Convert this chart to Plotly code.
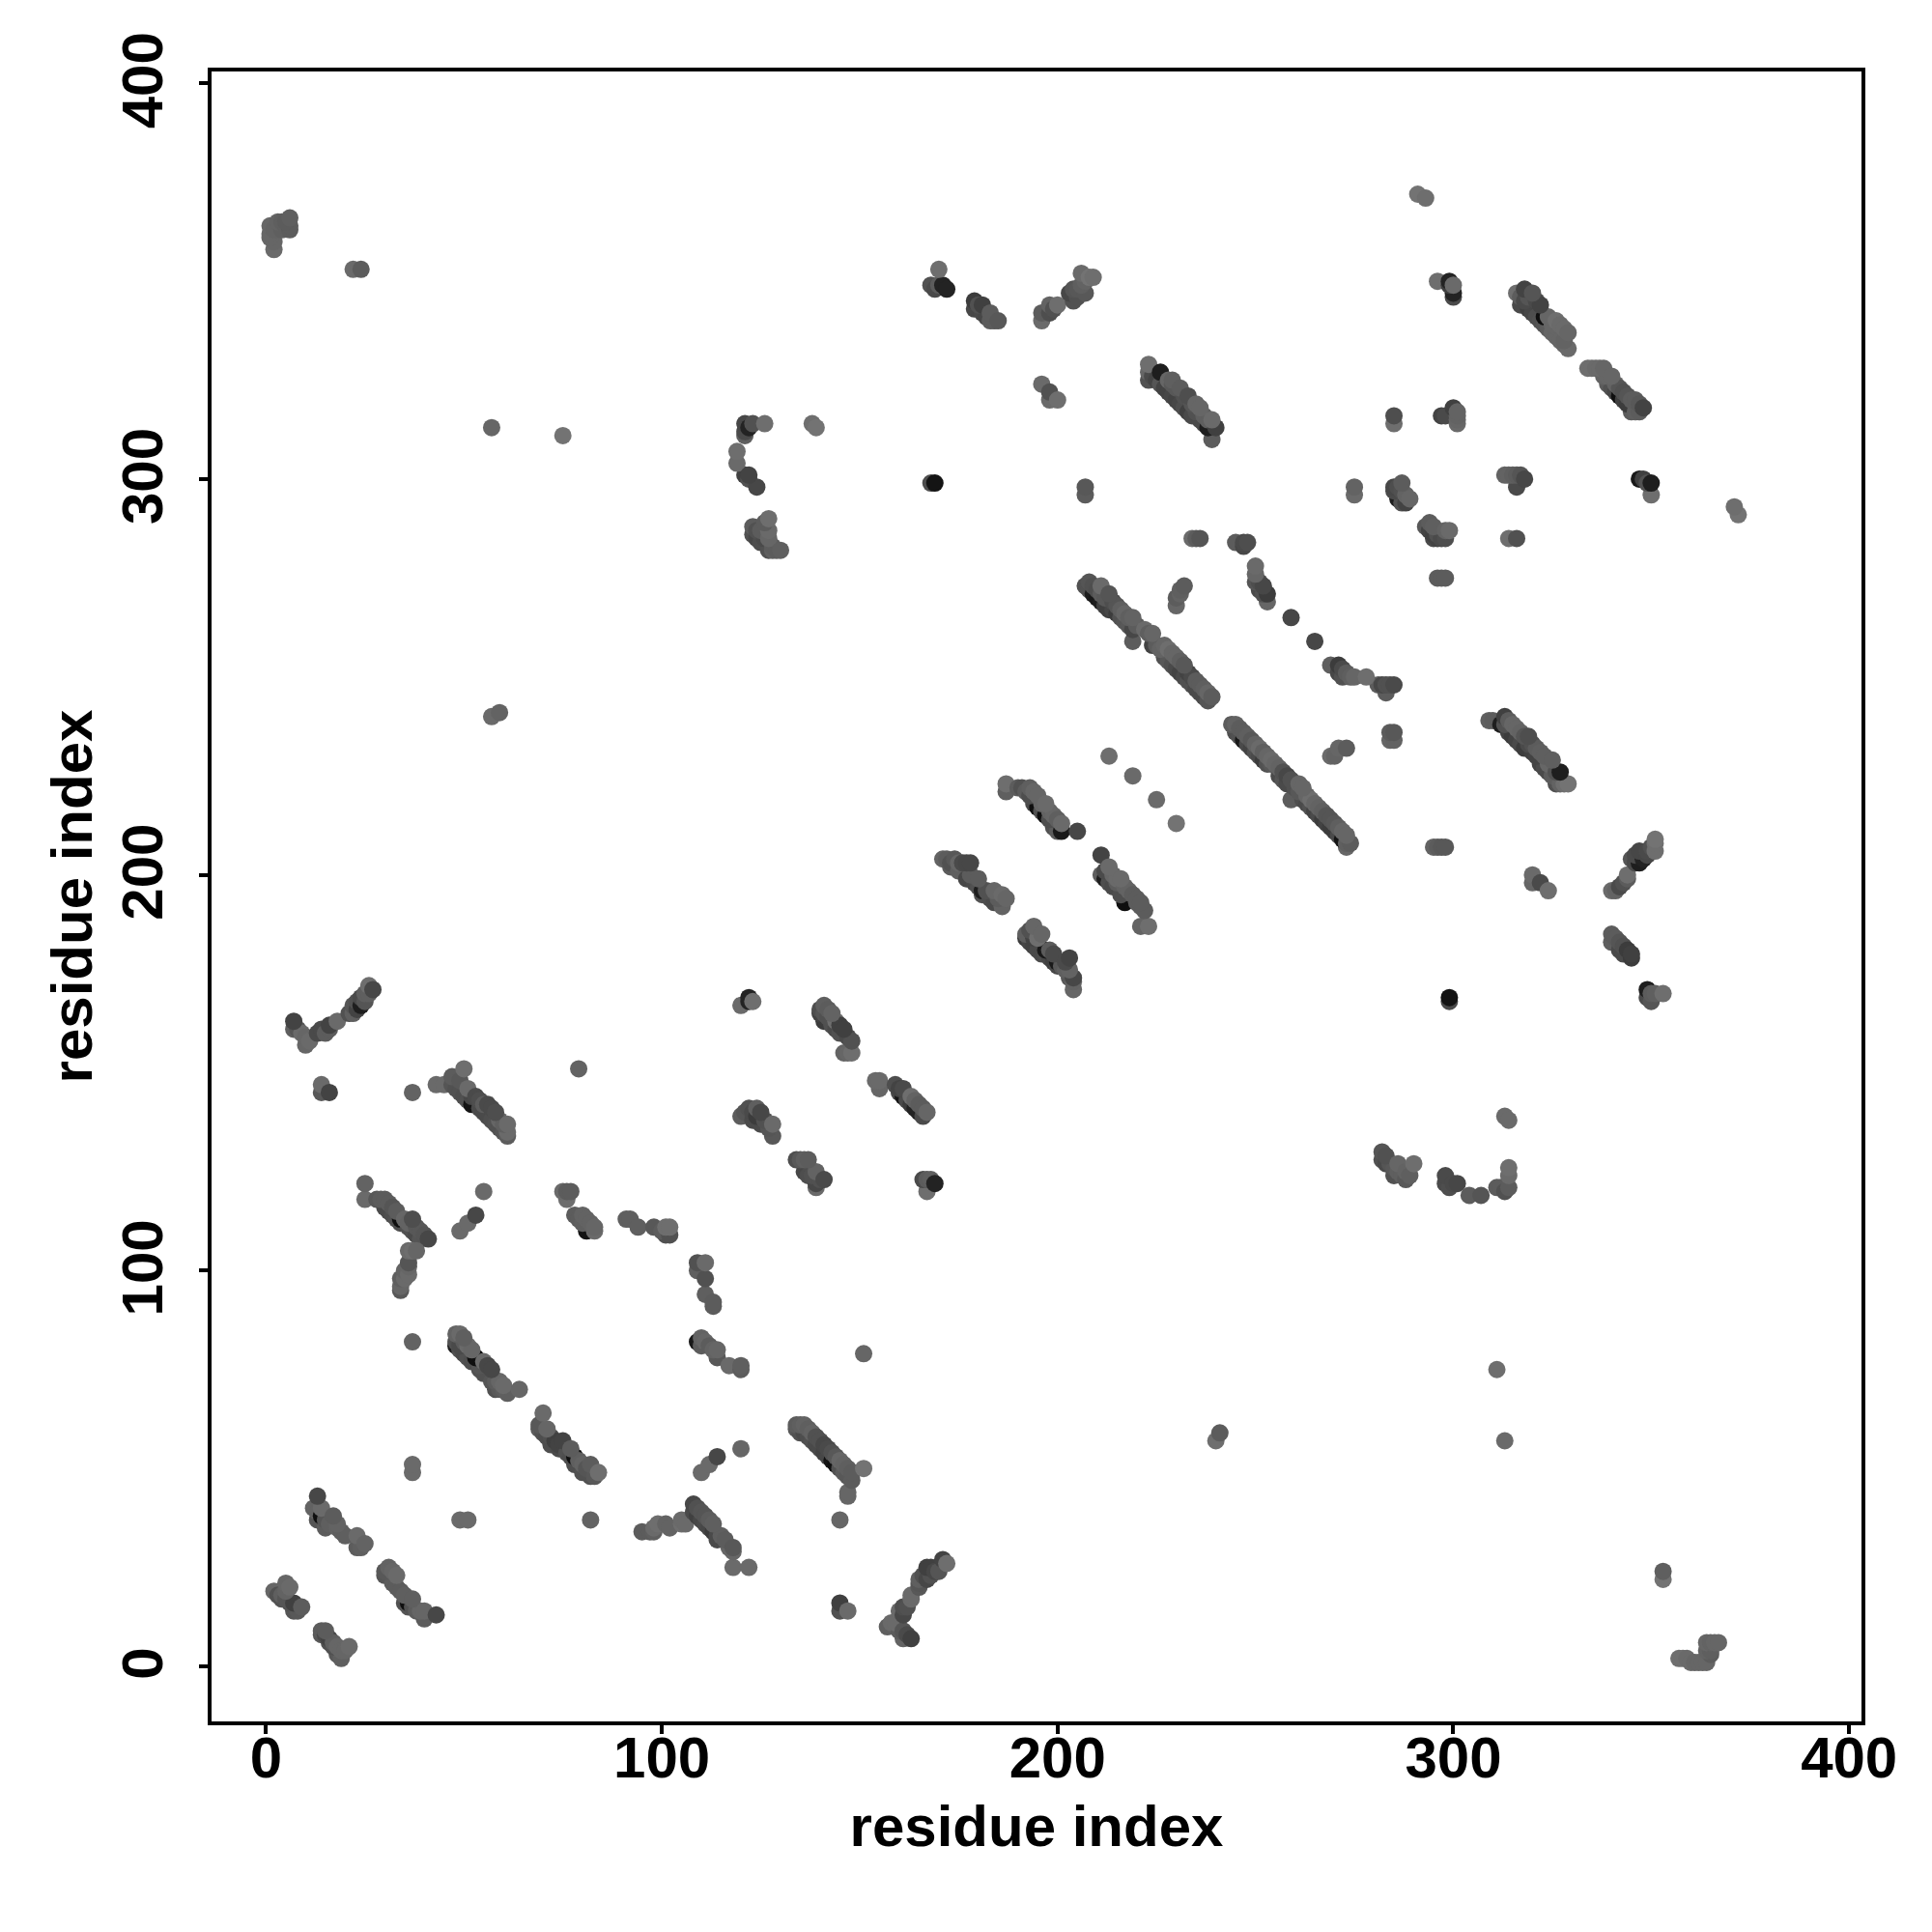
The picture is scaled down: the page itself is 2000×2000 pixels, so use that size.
import plotly.graph_objects as go

TICKS = [0, 100, 200, 300, 400]
AXIS_TITLE = "residue index"

# each contact: (residue i, residue j, grey shade of the point)
c01 = [(2,19,100),(3,18,70),(4,18,90),(4,17,70),(5,19,95),(5,21,100),(6,16,70),(5,17,75),(6,20,105),(7,14,75),(7,16,45),(8,14,80),(9,15,85)]
c02 = [(14,8,80),(14,9,85),(15,8,60),(15,9,85),(16,6,70),(16,7,50),(17,5,70),(17,6,90),(18,3,80),(18,5,100),(19,2,90),(19,4,100),(20,4,100),(21,5,105)]
c03 = [(13,43,55),(12,40,95),(13,37,75),(13,39,95),(14,40,105),(14,38,15),(15,37,75),(15,35,85),(16,36,90),(17,38,85),(18,36,95),(18,35,95),(19,34,90),(20,33,90),(23,30,85),(23,33,105),(24,30,90),(25,31,95)]
c04 = [(31,25,95),(30,24,80),(30,23,75),(32,24,100),(33,23,105),(32,21,85),(33,20,85),(34,19,85),(35,16,70),(35,18,90),(36,15,75),(36,16,15),(37,15,70),(37,17,90),(38,14,85),(39,14,100),(40,12,85),(40,14,100),(43,13,55)]
c05 = [(37,51,105),(37,49,105),(49,37,105),(51,37,105),(82,37,95),(37,82,95),(57,313,100),(75,311,115),(22,353,105),(24,353,85),(57,240,105),(59,241,95),(79,151,95),(37,145,95)]
c06 = [(70,64,105),(69,61,80),(69,60,85),(70,59,70),(71,60,100),(71,58,65),(72,58,70),(72,56,65),(73,57,45),(74,56,50),(74,55,60),(75,57,50),(76,54,70),(77,55,85),(77,53,65),(78,53,15),(78,51,65),(79,52,90),(80,51,95),(80,49,70),(81,50,75),(82,48,70),(82,51,85),(83,48,80),(84,49,110)]
c07 = [(48,81,30),(48,82,70),(48,84,95),(49,84,105),(49,81,60),(50,83,90),(49,80,70),(50,79,60),(50,82,85),(51,81,105),(51,78,70),(52,77,65),(52,80,100),(53,78,15),(54,75,70),(54,76,75),(55,74,70),(55,77,105),(56,76,55),(57,75,55),(57,72,75),(58,70,70),(59,70,80),(58,72,85),(59,72,100),(60,71,105),(60,70,85),(61,69,90),(64,70,100)]
c08 = [(25,122,95),(25,118,105),(28,118,80),(29,118,85),(30,118,85),(30,116,60),(31,117,85),(31,115,60),(32,116,75),(32,114,65),(33,115,85),(33,113,70),(34,113,15),(34,112,65),(35,113,100),(36,112,95),(36,111,70),(37,113,65),(37,110,70),(38,111,80),(38,109,60),(39,110,80),(39,108,75),(40,109,75),(41,108,55)]
c09 = [(38,105,100),(36,105,105),(37,105,110),(36,102,75),(36,101,100),(35,100,95),(34,98,90),(35,98,105),(36,99,105),(34,95,80),(34,96,100)]
c10 = [(49,110,105),(51,112,105),(53,114,55),(55,120,105)]
c11 = [(75,120,105),(76,120,85),(77,120,85),(76,118,110),(78,114,85),(79,113,85),(80,114,95),(80,112,90),(81,110,20),(81,113,95),(82,112,95),(83,110,105),(83,111,100)]
c12 = [(91,113,90),(92,113,90),(94,111,90),(98,111,80),(101,109,70),(102,109,70),(100,110,85),(101,111,110),(102,111,110)]
c13 = [(109,102,70),(111,102,105),(109,100,90),(111,98,70),(111,94,90),(113,92,85),(113,91,85)]
c14 = [(109,82,25),(110,83,95),(110,81,85),(111,82,100),(112,81,85),(113,80,95),(114,80,100),(114,78,80),(117,76,105),(120,76,90),(120,75,85)]
c15 = [(120,55,100),(114,53,55),(112,51,105),(110,49,105)]
c16 = [(95,34,85),(97,34,85),(98,34,90),(98,35,105),(99,36,110),(101,36,95),(102,35,95),(105,37,105),(105,36,110),(106,36,105)]
c17 = [(108,41,55),(109,40,70),(108,39,60),(110,39,75),(109,38,45),(110,37,55),(111,38,75),(111,36,60),(112,37,85),(112,35,55),(113,36,90),(113,34,40),(114,33,60),(115,33,90),(114,32,60),(116,32,85),(117,30,100),(118,30,80),(118,29,100),(118,25,105),(122,25,105)]
c18 = [(166,123,60),(167,123,85),(168,123,90),(167,120,110),(169,122,35)]
c19 = [(151,79,100),(145,37,100),(145,16,45),(145,14,70),(147,14,105),(240,57,110),(241,59,85),(311,75,110),(313,57,105),(353,24,90),(353,22,115)]
c20 = [(134,61,85),(134,60,80),(135,61,90),(135,59,70),(136,61,95),(136,59,60),(137,60,90),(137,58,65),(138,59,95),(138,57,70),(139,58,70),(139,56,60),(140,57,70),(140,55,60),(141,56,55),(141,54,50),(142,55,60),(142,53,55),(143,54,70),(143,52,20),(144,53,80),(144,51,15),(145,52,100),(145,50,70),(146,49,85),(146,51,95),(147,50,90),(147,48,80),(148,47,85),(148,49,85),(151,50,115),(147,44,100),(147,43,100)]
c21 = [(157,10,90),(158,11,105),(159,11,105),(160,9,85),(161,9,75),(161,7,95),(162,8,60),(163,7,45),(160,14,105),(161,13,55),(161,15,65),(162,15,70),(163,17,105),(163,18,105),(165,20,80),(165,21,75),(165,22,90),(166,23,70),(167,22,55),(167,25,45),(168,25,45),(168,23,70),(169,24,55),(170,24,75),(171,27,50),(172,26,110)]
c22 = [(357,2,110),(358,2,110),(359,2,105),(360,1,105),(361,1,100),(362,1,100),(363,1,100),(364,1,100),(365,3,85),(365,4,90),(364,4,95),(364,6,100),(365,6,95),(366,6,100),(367,6,100)]
c23 = [(7,163,50),(7,161,90),(8,161,75),(9,160,105),(10,159,100),(10,157,100),(11,158,105),(13,160,60),(14,161,60),(15,160,85),(16,162,50),(16,161,85),(18,163,105),(21,165,70),(22,165,90),(22,167,75),(23,166,50),(23,168,70),(24,167,30),(24,169,60),(25,168,75),(25,170,90),(26,172,110),(26,170,90),(27,171,55)]
c24 = [(14,147,105),(14,145,80),(16,145,50)]
c25 = [(43,147,105),(45,147,105),(47,149,85),(47,147,75),(48,146,70),(49,148,80),(50,151,110),(49,145,70),(50,144,65),(51,146,105),(51,143,70),(52,144,55),(52,142,20),(53,144,60),(54,141,60),(54,143,65),(55,142,85),(55,140,60),(56,142,60),(56,139,60),(57,141,60),(57,138,65),(58,140,65),(58,137,70),(59,138,100),(59,136,70),(60,137,90),(60,135,75),(61,137,105),(61,135,105),(61,134,85)]
c26 = [(120,167,105),(122,169,35),(122,168,35),(123,168,110)]
c27 = [(120,139,85),(121,140,75),(122,141,70),(123,140,60),(123,138,60),(124,141,90),(124,139,40),(125,140,55),(125,137,60),(126,138,70),(127,136,75),(128,137,105),(128,134,80)]
c28 = [(134,128,65),(135,128,80),(136,128,90),(137,128,85),(136,125,55),(137,124,65),(138,124,70),(139,125,95),(139,122,55),(140,123,70),(141,123,60),(139,121,105)]
c29 = [(141,167,90),(140,166,65),(140,165,50),(141,165,75),(142,166,85),(141,163,40),(142,164,70),(143,165,95),(143,162,70),(144,163,110),(144,161,60),(145,162,45),(145,160,70),(146,161,45),(146,160,70),(147,159,60),(148,158,70),(146,155,95),(147,155,100),(148,155,110)]
c30 = [(154,148,105),(155,148,105),(155,146,100),(159,147,65),(160,146,50),(160,145,60),(161,146,60),(161,144,20),(162,143,60),(163,144,110),(163,142,40),(164,143,95),(164,141,35),(165,142,85),(165,140,35),(166,141,85),(166,139,60),(167,140,100)]
c31 = [(171,204,95),(172,204,85),(173,203,70),(173,202,85),(174,204,80),(175,203,100),(175,201,90),(176,203,60),(177,203,55),(178,203,55),(177,199,55),(178,200,85),(179,198,60),(180,199,85),(180,197,70),(181,196,30),(181,195,70),(182,196,70),(183,194,65),(184,193,60),(184,196,100),(185,194,85),(186,192,95),(186,195,105),(187,194,100)]
c32 = [(187,221,90),(187,223,110),(190,222,85),(191,222,70),(192,221,85),(193,222,90),(193,220,65),(194,221,100),(194,218,60),(195,220,100),(195,217,15),(196,218,100),(196,216,70),(197,218,105),(197,215,15),(198,216,95),(198,214,65),(199,215,100),(199,212,70),(200,214,90),(201,213,105),(200,211,85),(201,211,25),(205,211,55)]
c33 = [(213,230,110),(219,225,105),(225,219,105),(230,213,115),(211,205,50)]
c34 = [(211,200,90),(212,199,30),(212,201,60),(213,202,105),(213,198,65),(214,200,100),(214,197,60),(215,199,105),(215,198,85),(216,195,65),(216,199,105),(217,193,15),(217,197,95),(218,196,95),(219,195,85),(220,194,85),(220,193,85),(221,193,85),(221,192,85),(222,191,85),(221,187,95),(223,187,110)]
c35 = [(192,185,90),(193,186,70),(194,187,100),(192,184,40),(193,183,55),(194,184,50),(194,182,50),(195,184,110),(195,181,60),(196,185,100),(196,180,60),(197,181,25),(197,180,65),(198,181,85),(198,179,55),(199,180,60),(199,178,45),(200,178,25),(200,177,55),(201,177,80),(202,176,90),(202,178,60),(203,179,50),(203,176,95),(203,174,80),(204,173,95),(204,174,55),(204,171,100)]
c36 = [(244,238,85),(245,238,95),(246,237,85),(245,236,65),(246,235,70),(247,236,85),(247,234,25),(248,235,90),(248,233,60),(249,234,80),(249,232,50),(250,233,95),(250,231,70),(251,232,105),(251,230,60),(252,231,90),(252,229,40),(253,230,100),(253,228,70),(254,229,105),(254,228,80),(255,228,100),(256,227,95),(256,225,60),(257,226,70),(257,224,75),(258,225,55),(258,223,60),(259,224,70),(259,219,85),(260,222,70),(261,223,100),(261,221,80),(262,222,100),(262,219,65),(263,218,60),(263,220,100),(264,219,110),(264,217,70),(265,218,100),(265,216,50),(266,217,95),(266,215,60),(267,216,90),(267,214,40),(268,215,75),(268,213,50),(269,214,75),(269,212,40),(270,213,80),(270,211,40),(271,212,90),(271,210,60),(272,209,20),(272,211,100),(273,208,90),(273,210,100),(273,207,100),(274,208,85)]
c37 = [(281,248,85),(282,248,55),(283,248,70),(284,248,70),(285,248,60),(283,246,85),(269,230,105),(270,230,95),(271,232,100),(273,232,85),(284,236,85),(285,236,80),(284,234,100),(285,234,95),(295,207,95),(296,207,85),(297,207,80),(298,207,80)]
c38 = [(309,239,90),(310,239,85),(312,238,30),(313,240,45),(313,238,70),(314,239,85),(314,236,50),(315,238,100),(315,235,40),(316,237,100),(316,234,50),(317,236,95),(317,233,60),(318,235,75),(318,232,40),(319,235,65),(319,233,60),(320,233,70),(320,231,45),(321,232,85),(321,230,50),(322,231,90),(322,228,50),(323,230,90),(323,227,60),(324,228,100),(324,226,60),(325,229,90),(325,225,85),(327,226,30),(326,226,70),(326,223,70),(327,223,95),(328,223,110),(329,223,115)]
c39 = [(320,200,105),(320,198,100),(322,198,60),(324,196,110)]
c40 = [(340,196,105),(341,196,95),(342,197,60),(343,198,70),(344,199,85),(344,200,110),(345,204,75),(346,205,60),(346,203,60),(347,206,55),(347,203,30),(348,204,35),(349,206,60),(349,205,55),(350,207,70),(351,206,110),(351,208,110),(351,209,115)]
c41 = [(340,185,85),(340,183,90),(341,184,85),(342,183,75),(342,181,60),(343,182,70),(343,180,60),(344,181,40),(345,180,45),(345,179,40)]
c42 = [(349,171,30),(349,169,60),(350,168,75),(350,170,85),(351,170,90),(353,170,110),(299,168,60),(299,169,20),(313,139,105),(314,138,105)]
c43 = [(282,130,75),(283,129,70),(282,128,70),(283,127,60),(284,127,75),(285,126,80),(286,127,100),(285,124,70),(286,125,90),(287,124,90),(288,123,80),(288,125,95),(289,124,90),(290,127,110)]
c44 = [(298,124,60),(298,122,60),(299,121,65),(300,122,60),(301,122,55),(304,119,85),(307,119,75),(311,121,85),(312,121,85),(313,120,70),(314,121,85),(314,124,105),(314,126,110)]
c45 = [(168,349,70),(169,348,60),(170,353,110),(170,349,85),(171,349,35),(172,348,35)]
c46 = [(179,345,40),(179,343,55),(180,344,70),(181,344,45),(181,342,60),(182,341,55),(183,340,85),(183,342,85),(184,340,85),(185,340,80)]
c47 = [(196,340,105),(196,342,85),(198,344,95),(198,342,65),(199,343,70),(200,344,110)]
c48 = [(203,347,55),(204,345,70),(204,348,75),(205,346,70),(205,348,80),(206,352,105),(206,349,90),(207,347,80),(207,350,95),(208,351,115),(209,351,110)]
c49 = [(196,324,105),(198,322,70),(198,320,105),(200,320,110),(138,314,110),(139,313,115),(168,299,65),(169,299,20),(207,298,80),(207,296,85)]
c50 = [(121,314,55),(121,312,60),(121,311,90),(122,313,35),(123,314,70),(126,314,110),(119,307,110),(119,304,105),(121,301,45),(122,301,50),(122,300,70),(124,298,55)]
c51 = [(123,288,85),(123,286,70),(124,287,70),(124,285,55),(125,287,85),(125,284,65),(126,289,85),(126,285,60),(127,290,110),(127,287,105),(127,285,100),(127,282,70),(128,283,85),(128,282,90),(129,282,85),(130,282,90)]
c52 = [(223,329,110),(223,327,100),(223,325,70),(224,326,60),(225,325,50),(226,327,30),(226,324,75),(227,323,50),(228,322,50),(228,325,100),(229,325,90),(229,324,80),(229,321,55),(230,323,80),(230,320,50),(231,323,85),(231,319,55),(232,321,70),(232,318,65),(233,321,65),(233,317,45),(234,316,60),(234,319,75),(235,319,100),(235,317,70),(236,315,60),(236,318,100),(237,316,90),(237,314,60),(238,315,90),(238,313,30),(239,310,85),(239,315,105),(240,313,45)]
c53 = [(207,273,70),(208,274,75),(208,272,70),(209,273,70),(209,271,30),(210,272,65),(210,270,25),(211,273,105),(211,271,85),(211,269,30),(212,270,80),(212,268,45),(213,271,75),(213,267,45),(214,269,65),(214,267,55),(215,268,75),(215,266,40),(216,267,90),(216,265,70),(217,266,100),(217,264,75),(218,265,90),(218,263,80),(219,265,95),(219,262,55),(219,259,85),(220,263,85),(222,262,105),(223,261,90),(224,261,100),(224,258,50),(225,258,85),(226,257,95),(227,258,100),(227,255,70),(228,257,110),(228,254,80),(229,256,100),(229,253,70),(230,255,100),(230,252,60),(231,254,90),(231,251,50),(232,253,80),(232,250,60),(233,251,50),(233,249,70),(234,250,60),(234,248,70),(235,249,85),(235,247,60),(236,248,85),(236,246,60),(237,247,90),(237,245,60),(238,246,100),(238,244,75),(239,245,85)]
c54 = [(230,270,85),(230,268,100),(231,271,95),(231,272,90),(232,273,85)]
c55 = [(291,372,115),(293,371,110),(296,350,110),(299,350,35),(299,349,45),(300,347,35),(300,346,60),(300,349,105)]
c56 = [(316,347,110),(317,346,85),(317,344,60),(318,348,50),(318,345,60),(319,346,75),(319,343,45),(320,347,75),(320,342,55),(321,345,60),(321,341,65),(322,344,50),(322,340,70),(323,341,15),(323,339,75),(324,341,100),(324,338,85),(325,339,100),(325,337,100),(326,340,110),(326,336,100),(327,339,105),(327,335,100),(328,338,105),(328,334,100),(328,335,95),(329,337,100),(329,333,105)]
c57 = [(334,328,110),(335,328,110),(336,328,105),(337,328,105),(338,328,100),(338,326,95),(339,326,100),(339,324,85),(340,326,100),(340,323,70),(341,324,95),(341,322,55),(342,323,75),(342,321,15),(343,322,70),(343,320,45),(344,319,40),(344,321,75),(345,317,85),(345,320,85),(346,317,90),(346,320,85),(347,317,85),(347,319,80),(348,318,50)]
c58 = [(285,314,110),(285,316,65),(297,316,50),(298,316,60),(300,318,45),(301,314,105),(301,315,100),(301,316,95),(301,317,95),(275,296,105),(275,298,95)]
c59 = [(285,298,55),(285,297,60),(286,298,65),(286,295,30),(287,299,85),(287,297,70),(287,294,70),(288,294,50),(288,296,95),(289,295,100)]
c60 = [(293,288,80),(294,289,85),(294,287,50),(295,288,90),(295,286,45),(295,285,60),(296,286,70),(296,285,50),(297,285,60),(298,285,65),(298,287,95),(299,287,105)]
c61 = [(313,301,95),(314,301,95),(315,301,90),(316,298,60),(316,301,85),(317,301,75),(318,300,55),(314,285,110),(316,285,70)]
c62 = [(347,300,25),(348,300,45),(349,299,70),(350,296,110),(350,299,30),(371,293,110),(372,291,115),(296,275,85),(297,275,85),(298,275,85),(259,265,55),(265,259,55)]
c63 = [(234,285,105),(235,285,85),(236,285,75),(245,284,85),(247,284,60),(248,284,65),(247,283,55),(250,278,105),(250,276,100),(250,274,75),(251,274,65),(251,272,60),(252,273,55),(252,271,70),(253,271,40),(253,269,100)]
c64 = [(269,253,90),(271,253,40),(271,251,55),(272,252,60),(272,250,70),(273,251,85),(274,250,90),(275,250,100),(278,250,110)]
c65 = [(2,358,105),(2,360,100),(1,361,100),(1,362,100),(1,364,100),(2,363,95),(3,365,95),(4,365,90),(4,363,90),(5,364,90),(6,363,85),(6,364,85),(6,366,90),(5,365,85)]

CONTACTS = [c01,c02,c03,c04,c05,c06,c07,c08,c09,c10,c11,c12,c13,c14,c15,c16,c17,c18,c19,c20,c21,c22,c23,c24,c25,c26,c27,c28,c29,c30,c31,c32,c33,c34,c35,c36,c37,c38,c39,c40,c41,c42,c43,c44,c45,c46,c47,c48,c49,c50,c51,c52,c53,c54,c55,c56,c57,c58,c59,c60,c61,c62,c63,c64,c65]

# lower-left rows are painted first, so the lighter upper rows lie on top
rows = [p for group in CONTACTS for p in sorted(group, key=lambda q: q[0] + q[1])]
res_i = [p[0] for p in rows]
res_j = [p[1] for p in rows]


def tone(s):
    return s if s < 40 or s > 108 else round(s + (108 - s) * 0.3)


shade = [f"rgb({tone(p[2])},{tone(p[2])},{tone(p[2])})" for p in rows]

FONT = "Liberation Sans"
fig = go.Figure(go.Scatter(
    x=res_i, y=res_j, mode="markers",
    marker=dict(size=18, color=shade, line=dict(width=0)),
    showlegend=False, hoverinfo="x+y"))

axis = dict(
    tickmode="array", tickvals=TICKS, ticktext=[str(t) for t in TICKS],
    ticks="outside", ticklen=9, tickwidth=3.5, tickcolor="black",
    showline=True, mirror=True, linecolor="black", linewidth=4,
    showgrid=False, zeroline=False, automargin=False,
    tickfont=dict(family=FONT, size=60, color="black", weight="bold"),
)
fig.update_xaxes(range=[-13.77, 403.13], ticklabelstandoff=-27, **axis,
                 title=dict(text=f"<b>{AXIS_TITLE}</b>", standoff=18,
                            font=dict(family=FONT, size=60, color="black")))
fig.update_yaxes(range=[-13.91, 403.0], tickangle=-90, ticklabelstandoff=14, ticklabelshift=6, **axis,
                 title=dict(text=f"<b>{AXIS_TITLE}</b>", standoff=0,
                            font=dict(family=FONT, size=60, color="black")))
fig.update_layout(
    width=2000, height=2000, autosize=False,
    margin=dict(l=219, r=73.4, t=73.7, b=218, pad=0),
    paper_bgcolor="white", plot_bgcolor="white",
)
fig.write_html("out.html", config=dict(displayModeBar=False),
               post_script="document.body.style.margin='0';")
